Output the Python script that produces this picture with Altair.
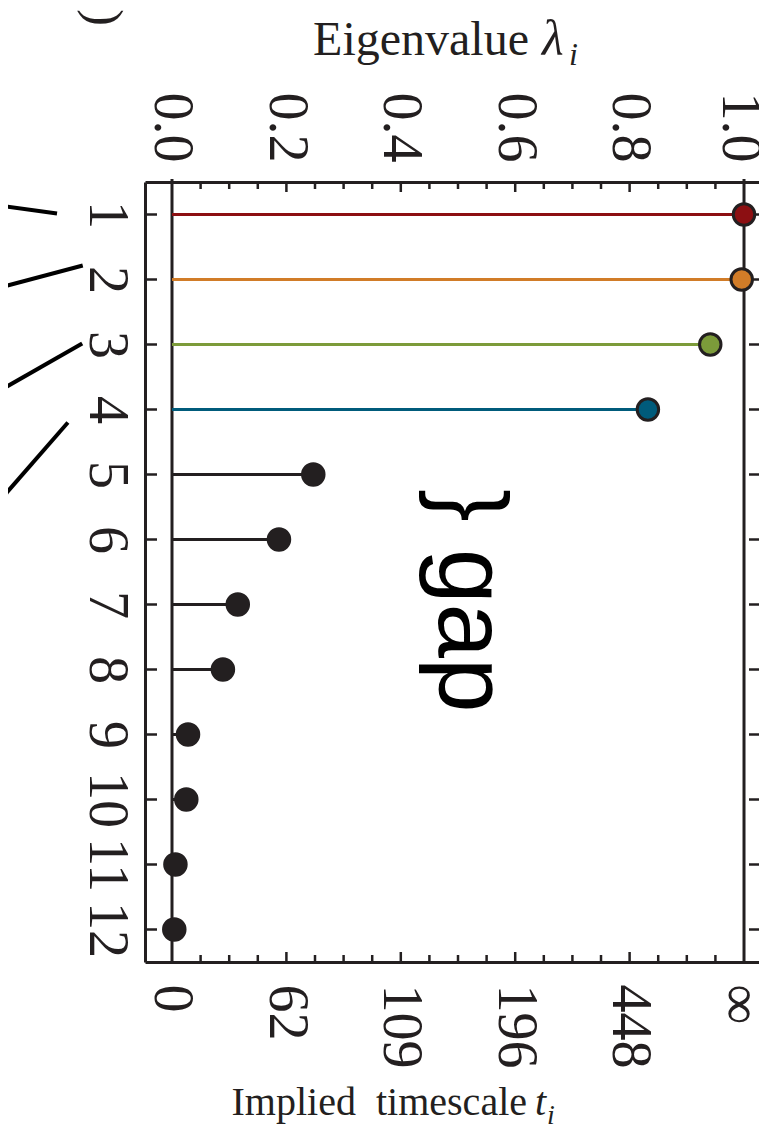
import json
import altair as alt
import pandas as pd

# ---------------- data ----------------
index_i = [1, 2, 3, 4, 5, 6, 7, 8, 9, 10, 11, 12]
eigenvalues = [1.0, 0.996, 0.941, 0.832, 0.247, 0.187, 0.115, 0.089, 0.028, 0.025, 0.006, 0.004]
colors = ["#8c0f12", "#d17c28", "#7c9b3a", "#005b7b",
          "#231f20", "#231f20", "#231f20", "#231f20",
          "#231f20", "#231f20", "#231f20", "#231f20"]
highlighted = [True, True, True, True, False, False, False, False, False, False, False, False]

top_tick_values = [0.0, 0.2, 0.4, 0.6, 0.8, 1.0]
top_tick_labels = ["0.0", "0.2", "0.4", "0.6", "0.8", "1.0"]
bottom_tick_labels = ["0", "62", "109", "196", "448", "\u221e"]
major_ticks = [0.2, 0.4, 0.6, 0.8]
minor_ticks = [0.05, 0.1, 0.15, 0.25, 0.3, 0.35, 0.45, 0.5, 0.55,
               0.65, 0.7, 0.75, 0.85, 0.9, 0.95]
ref_lines = [0.0, 1.0]

# connector strokes from the neighbouring panel (data units: eigenvalue, index)
conn_x1 = [-0.301, -0.301, -0.301, -0.301]
conn_x2 = [-0.201, -0.156, -0.157, -0.182]
conn_y1 = [0.862, 2.123, 3.708, 5.400]
conn_y2 = [0.985, 1.785, 2.985, 4.200]

INK = "#231f20"
W, H = 614, 780
SERIF = "Liberation Serif"
SANS = "Liberation Sans"
LBL = 56

df = pd.DataFrame({"i": index_i, "lam": eigenvalues, "c": colors,
                   "hl": highlighted, "base": [0.0] * 12})
df_hl = df[df["hl"]]
df_rest = df[~df["hl"]]

xs = alt.Scale(domain=[-0.0472, 1.0262], nice=False, zero=False)
ys = alt.Scale(domain=[0.5, 12.5], nice=False, zero=False, reverse=True)

label_common = dict(labelFont=SERIF, labelFontSize=LBL, labelColor=INK,
                    ticks=False, tickSize=0, grid=False, title=None,
                    domain=True, domainWidth=3, domainColor=INK)
edge_shift = {"condition": {"test": "datum.value >= 1", "value": -5}, "value": 0}

top_axis = alt.Axis(orient="top", values=top_tick_values,
                    labelExpr=json.dumps(top_tick_labels) + "[round(datum.value*5)]",
                    labelAngle=90, labelAlign="right", labelBaseline="middle",
                    labelPadding=20, labelOffset=edge_shift, **label_common)
bottom_axis = alt.Axis(orient="bottom", values=top_tick_values,
                       labelExpr=json.dumps(bottom_tick_labels, ensure_ascii=False) + "[round(datum.value*5)]",
                       labelAngle=90, labelAlign="left", labelBaseline="middle",
                       labelPadding=22, labelOffset=edge_shift, **label_common)
left_axis = alt.Axis(orient="left", values=index_i, labelAngle=90,
                     labelAlign="center", labelBaseline="top",
                     labelPadding=12, **label_common)

# vertical reference lines at lambda = 0 and 1 (host the top axis)
vlines = alt.Chart(pd.DataFrame({"v": ref_lines})).mark_rule(
    color=INK, strokeWidth=3).encode(
    x=alt.X("v:Q", scale=xs, axis=top_axis),
    y=alt.value(-3), y2=alt.value(H))

# tick marks (inward)
def xticks(vals, y0, y1, axis=None):
    return alt.Chart(pd.DataFrame({"t": vals})).mark_rule(
        color=INK, strokeWidth=2.5).encode(
        x=alt.X("t:Q", scale=xs, axis=axis), y=alt.value(y0), y2=alt.value(y1))

top_major = xticks(major_ticks, 0, 10)
top_minor = xticks(minor_ticks, 0, 7)
bot_major = xticks(major_ticks, H - 10, H, axis=bottom_axis)
bot_minor = xticks(minor_ticks, H - 7, H)

left_ticks = alt.Chart(pd.DataFrame({"i": index_i})).mark_rule(
    color=INK, strokeWidth=2.5).encode(
    y=alt.Y("i:Q", scale=ys, axis=left_axis), x=alt.value(0), x2=alt.value(12))
right_ticks = alt.Chart(pd.DataFrame({"i": index_i})).mark_rule(
    color=INK, strokeWidth=2.5).encode(
    y=alt.Y("i:Q", scale=ys, axis=None), x=alt.value(W - 10), x2=alt.value(W))

# stems
stems = alt.Chart(df).mark_rule(strokeWidth=3).encode(
    x=alt.X("base:Q", scale=xs, axis=None), x2="lam:Q",
    y=alt.Y("i:Q", scale=ys, axis=None),
    color=alt.Color("c:N", scale=None))

pts_hl = alt.Chart(df_hl).mark_circle(size=460, stroke=INK, strokeWidth=3, opacity=1).encode(
    x=alt.X("lam:Q", scale=xs, axis=None),
    y=alt.Y("i:Q", scale=ys, axis=None),
    fill=alt.Fill("c:N", scale=None))
pts_rest = alt.Chart(df_rest).mark_circle(size=600, color=INK, opacity=1).encode(
    x=alt.X("lam:Q", scale=xs, axis=None),
    y=alt.Y("i:Q", scale=ys, axis=None))

# connector strokes
conn = alt.Chart(pd.DataFrame({"x1": conn_x1, "x2": conn_x2, "y1": conn_y1, "y2": conn_y2})).mark_rule(
    color="black", strokeWidth=4).encode(
    x=alt.X("x1:Q", scale=xs, axis=None), x2="x2:Q",
    y=alt.Y("y1:Q", scale=ys, axis=None), y2="y2:Q")

def txt(s, x, y, size, font=SERIF, style="normal", angle=0, align="left", baseline="alphabetic"):
    return alt.Chart(pd.DataFrame({"s": [s]})).mark_text(
        font=font, fontSize=size, fontStyle=style, angle=angle, align=align,
        baseline=baseline, color=INK if font == SERIF else "black").encode(
        text="s:N", x=alt.value(x), y=alt.value(y))

gap = txt("} gap", 294, 307, 98, font=SANS, angle=90)
paren = txt(")", -42, -156, 50, angle=90, align="right", baseline="middle")

title_top = [
    txt("Eigenvalue", 384, -127, 48, align="right"),
    txt("\u03bb", 397, -127, 50, style="italic"),
    txt("i", 424, -117, 32, style="italic"),
]
title_bot = [
    txt("Implied\u00a0 timescale", 382, 933, 40, align="right"),
    txt("t", 390, 933, 40, style="italic"),
    txt("i", 402, 942, 28, style="italic"),
]

chart = alt.layer(
    vlines, top_major, top_minor, bot_major, bot_minor, left_ticks, right_ticks,
    stems, pts_hl, pts_rest, conn, gap, paren, *title_top, *title_bot
).resolve_axis(x="independent", y="independent").properties(
    width=W, height=H,
    padding={"left": 137, "top": 174, "right": 0, "bottom": 167},
    autosize=alt.AutoSizeParams(type="none"),
).configure_view(stroke=None).configure(background="white")

chart.save("out.html", embed_options={"renderer": "svg", "actions": False})
